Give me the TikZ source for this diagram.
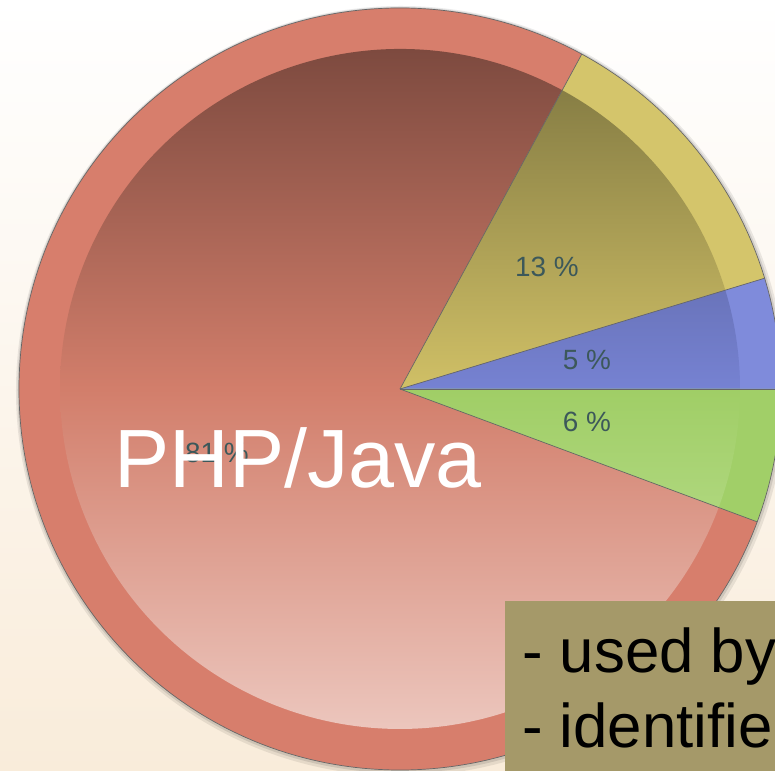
\documentclass[tikz,border=0pt]{standalone}
\usepackage{fontspec}
\setmainfont{Liberation Sans}
\definecolor{bgbot}{RGB}{249,236,218}
\definecolor{redring}{RGB}{215,126,108}
\definecolor{redtop}{RGB}{125,74,63}
\definecolor{redmid}{RGB}{210,126,107}
\definecolor{redbot}{RGB}{236,198,189}
\definecolor{yelring}{RGB}{212,197,107}
\definecolor{yeltop}{RGB}{125,117,64}
\definecolor{yelmid}{RGB}{208,192,102}
\definecolor{yelbot}{RGB}{236,228,180}
\definecolor{bluring}{RGB}{127,139,219}
\definecolor{blutop}{RGB}{75,82,130}
\definecolor{blumid}{RGB}{118,130,210}
\definecolor{blubot}{RGB}{190,198,238}
\definecolor{grnring}{RGB}{161,207,104}
\definecolor{grntop}{RGB}{95,122,62}
\definecolor{grnmid}{RGB}{160,206,102}
\definecolor{grnbot}{RGB}{200,230,165}
\definecolor{pctcol}{RGB}{60,88,90}
\definecolor{boxcol}{RGB}{165,153,105}
\newcommand\pieslice[6]{%
  \fill[#3] (C) -- ++(#1:381bp) arc[start angle=#1,end angle=#2,radius=381bp] -- cycle;
  \begin{scope}
    \clip (C) -- ++(#1:340bp) arc[start angle=#1,end angle=#2,radius=340bp] -- cycle;
    \shade[top color=#4, bottom color=#6, middle color=#5] (60,42) rectangle (740,722);
  \end{scope}}
\tikzset{
  border/.style={draw=black!60, line width=0.7bp},
  pct/.style={text=pctcol, font=\fontsize{28}{34}\selectfont, inner sep=0pt},
  bigtitle/.style={text=white, font=\fontsize{83}{96}\selectfont, inner sep=0pt, anchor=base west},
  notetext/.style={text=black, font=\fontsize{62}{74}\selectfont, inner sep=0pt, anchor=base west}
}
\begin{document}
\begin{tikzpicture}[x=1bp,y=1bp]
\useasboundingbox (0,0) rectangle (775,771);
\clip (0,0) rectangle (775,771);
\shade[top color=white, bottom color=bgbot, middle color={white!50!bgbot}] (0,0) rectangle (775,771);
\coordinate (C) at (400,382);
% shadow
\fill[black, opacity=0.08] (C) ++(1bp,-2bp) circle[radius=385bp];
\fill[black, opacity=0.10] (C) ++(0.5bp,-1bp) circle[radius=383bp];
% slices
\pieslice{61.5}{339.6}{redring}{redtop}{redmid}{redbot}
\pieslice{16.9}{61.5}{yelring}{yeltop}{yelmid}{yelbot}
\pieslice{0}{16.9}{bluring}{blutop}{blumid}{blubot}
\pieslice{-20.4}{0}{grnring}{grntop}{grnmid}{grnbot}
% borders
\draw[border] (C) circle[radius=381bp];
\draw[border] (C) -- ++(61.5:381bp);
\draw[border] (C) -- ++(16.9:381bp);
\draw[border] (C) -- ++(0:381bp);
\draw[border] (C) -- ++(-20.4:381bp);
% labels
\node[pct] (p13) at (547,504) {13 \%};
\node[pct] (p5) at (587,411) {5 \%};
\node[pct] (p6) at (587,349) {6 \%};
\node[pct] (p81) at (217,318) {81 \%};
\node[bigtitle] (title) at (114,283) {PHP/Java};
% note box
\fill[boxcol] (505,0) rectangle (780,170);
\node[notetext] (l1) at (522,98) {- used by};
\node[notetext] (l2) at (522,23) {- identifie};
\end{tikzpicture}
\end{document}
